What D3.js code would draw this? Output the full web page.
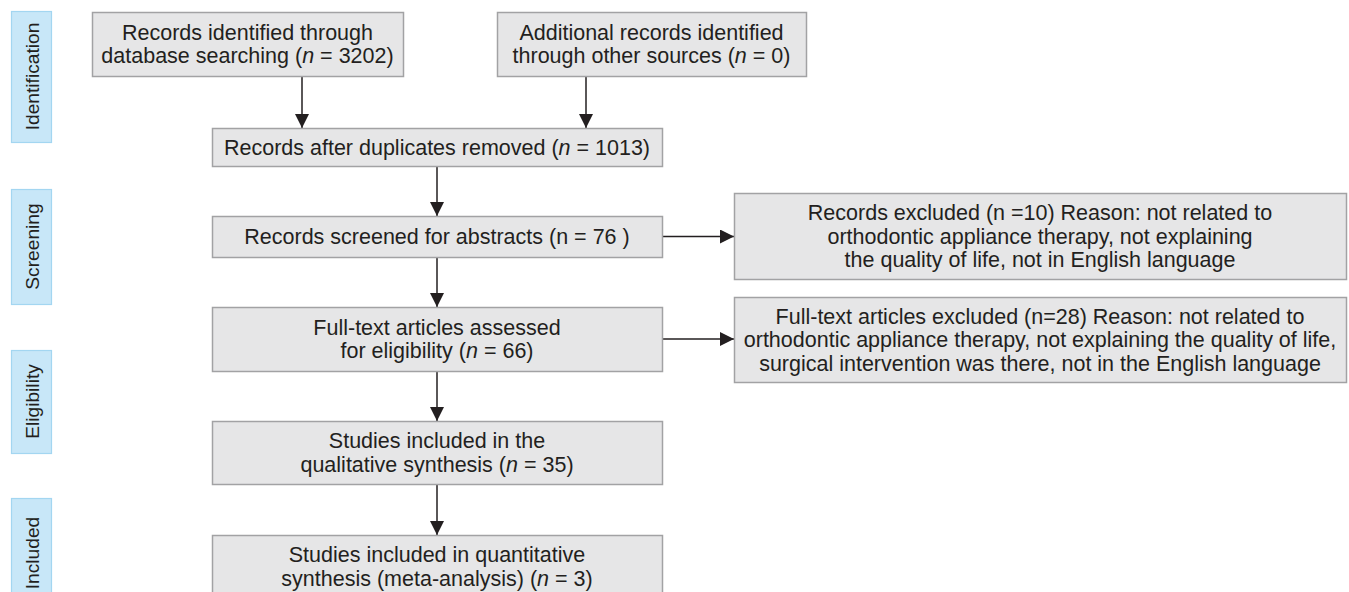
<!DOCTYPE html>
<html>
<head>
<meta charset="utf-8">
<script src="https://cdn.jsdelivr.net/npm/d3@7"></script>
<style>
  body { margin: 0; background: #fff; }
  svg { display: block; font-family: "Liberation Sans", Arial, Helvetica, sans-serif; }
</style>
</head>
<body>
<div id="chart"></div>
<script>
// stage labels down the left side
const stages = ["Identification", "Screening", "Eligibility", "Included"];

// box texts, one entry per line; *n* marks an italic n
const boxIds = ["db", "other", "dedup", "screened", "excl1", "fulltext", "excl2", "qual", "quant"];
const boxLines = [
  ["Records identified through", "database searching (*n* = 3202)"],
  ["Additional records identified", "through other sources (*n* = 0)"],
  ["Records after duplicates removed (*n* = 1013)"],
  ["Records screened for abstracts (n = 76 )"],
  ["Records excluded (n =10) Reason: not related to", "orthodontic appliance therapy, not explaining", "the quality of life, not in English language"],
  ["Full-text articles assessed", "for eligibility (*n* = 66)"],
  ["Full-text articles excluded (n=28) Reason: not related to", "orthodontic appliance therapy, not explaining the quality of life,", "surgical intervention was there, not in the English language"],
  ["Studies included in the", "qualitative synthesis (*n* = 35)"],
  ["Studies included in quantitative", "synthesis (meta-analysis) (*n* = 3)"]
];

// arrows: [from, to]
const links = [
  ["db", "dedup"], ["other", "dedup"], ["dedup", "screened"],
  ["screened", "excl1"], ["screened", "fulltext"],
  ["fulltext", "excl2"], ["fulltext", "qual"], ["qual", "quant"]
];

// ---- layout (kept apart from the data) ----
const width = 1349, height = 592;
const layout = {
  db:       { x: 92,  y: 12,  w: 311, h: 64, ax: 302 },
  other:    { x: 497, y: 12,  w: 309, h: 64, ax: 586 },
  dedup:    { x: 212, y: 128, w: 450, h: 38 },
  screened: { x: 212, y: 216, w: 450, h: 41 },
  excl1:    { x: 734, y: 193, w: 612, h: 86 },
  fulltext: { x: 212, y: 307, w: 450, h: 64 },
  excl2:    { x: 734, y: 297, w: 612, h: 85 },
  qual:     { x: 212, y: 421, w: 450, h: 63 },
  quant:    { x: 212, y: 535, w: 450, h: 63 }
};
const stageLayout = [
  { y: 11, h: 131 }, { y: 189, h: 115 }, { y: 350, h: 103 }, { y: 498, h: 110 }
];

const fontSize = 21.5, lineH = 23.5;
const ink = "#231f20";

const svg = d3.select("#chart").append("svg")
  .attr("width", width).attr("height", height)
  .attr("viewBox", `0 0 ${width} ${height}`);

svg.append("rect").attr("width", width).attr("height", height).attr("fill", "#fff");

svg.append("defs").append("marker")
  .attr("id", "head")
  .attr("viewBox", "0 0 14 14")
  .attr("refX", 14).attr("refY", 7)
  .attr("markerWidth", 14).attr("markerHeight", 14)
  .attr("markerUnits", "userSpaceOnUse")
  .attr("orient", "auto")
  .append("path")
  .attr("d", "M0,0 L14,7 L0,14 Z")
  .attr("fill", "#231f20");

// stage labels
const stageG = svg.append("g").selectAll("g")
  .data(stages)
  .join("g");

stageG.append("rect")
  .attr("x", 11.5)
  .attr("y", (d, i) => stageLayout[i].y + 0.5)
  .attr("width", 40)
  .attr("height", (d, i) => stageLayout[i].h)
  .attr("fill", "#c8e7f8")
  .attr("stroke", "#a3d6f1")
  .attr("stroke-width", 1.2);

stageG.append("text")
  .attr("transform", (d, i) => `translate(32,${stageLayout[i].y + stageLayout[i].h / 2}) rotate(-90)`)
  .attr("text-anchor", "middle")
  .attr("dominant-baseline", "central")
  .attr("font-size", 19.2)
  .attr("fill", ink)
  .text(d => d);

// arrows
const arrowG = svg.append("g");
links.forEach(([a, b]) => {
  const s = layout[a], t = layout[b];
  let x1, y1, x2, y2;
  if (t.x > s.x + s.w) {
    // sideways to an exclusion box
    x1 = s.x + s.w; y1 = s.y + s.h / 2;
    x2 = t.x; y2 = y1;
  } else {
    x1 = s.ax != null ? s.ax : s.x + s.w / 2;
    y1 = s.y + s.h;
    x2 = x1; y2 = t.y;
  }
  arrowG.append("line")
    .attr("x1", x1).attr("y1", y1)
    .attr("x2", x2).attr("y2", y2)
    .attr("stroke", "#231f20")
    .attr("stroke-width", 1.5)
    .attr("marker-end", "url(#head)");
});

// boxes
const boxG = svg.append("g").selectAll("g")
  .data(boxIds)
  .join("g");

boxG.append("rect")
  .attr("x", d => layout[d].x + 0.5)
  .attr("y", d => layout[d].y + 0.5)
  .attr("width", d => layout[d].w)
  .attr("height", d => layout[d].h)
  .attr("fill", "#e6e6e7")
  .attr("stroke", "#a2a2a4")
  .attr("stroke-width", 1.5);

boxG.each(function (id, i) {
  const L = layout[id];
  const lines = boxLines[i];
  const cx = L.x + L.w / 2;
  const top = L.y + L.h / 2 - (lines.length - 1) * lineH / 2;
  const text = d3.select(this).append("text")
    .attr("text-anchor", "middle")
    .attr("font-size", fontSize)
    .attr("fill", ink);
  lines.forEach((line, k) => {
    const row = text.append("tspan")
      .attr("x", cx)
      .attr("y", top + k * lineH)
      .attr("dy", "0.35em");
    line.split(/(\*n\*)/).filter(p => p.length).forEach(part => {
      if (part === "*n*") {
        row.append("tspan").attr("font-style", "italic").text("n");
      } else {
        row.append("tspan").text(part);
      }
    });
  });
});
</script>
</body>
</html>
